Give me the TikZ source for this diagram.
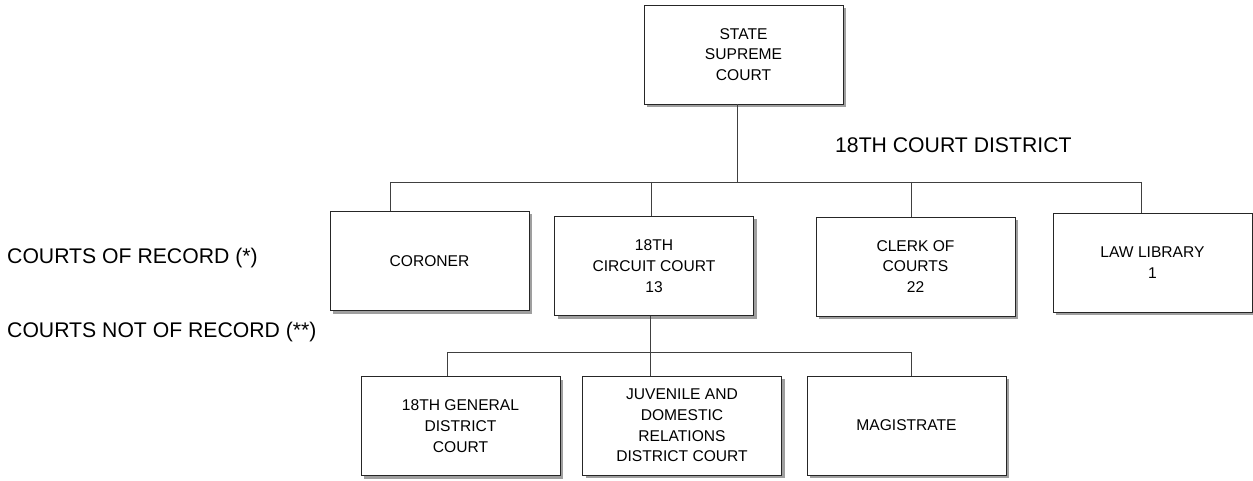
\documentclass[tikz,border=0pt]{standalone}
\usepackage{fontspec}
\setmainfont{Liberation Sans}
\usetikzlibrary{positioning,shadows}

\begin{document}
\begin{tikzpicture}[x=1pt, y=-1pt,
    court/.style={draw=black!85, line width=0.8pt, fill=white, minimum width=199pt, minimum height=99pt,
      align=center, inner sep=0pt, font=\fontsize{15.6}{20.8}\selectfont,
      drop shadow={shadow xshift=3pt, shadow yshift=-3pt, fill=gray!75, opacity=1}},
    link/.style={draw=black!75, line width=0.8pt},
    tag/.style={anchor=west, inner sep=0pt, font=\fontsize{21.2}{24}\selectfont}]
    \useasboundingbox (0,0) rectangle (1253,481);

    \node[court] (sup) at (743.5,54.5) {STATE\\SUPREME\\COURT};
    \node[tag] (district) at (835,145) {18TH COURT DISTRICT};

    \node[court] (coroner) at (429.5,261) {CORONER};
    \node[court] (circuit) at (654,266) {18TH\\CIRCUIT COURT\\13};
    \node[court] (clerk) at (915.5,266.5) {CLERK OF\\COURTS\\22};
    \node[court] (library) at (1152.5,262.5) {LAW LIBRARY\\1};

    \node[court] (general) at (460.5,426) {18TH GENERAL\\DISTRICT\\COURT};
    \node[court] (juvenile) at (682,425.5) {JUVENILE AND\\DOMESTIC\\RELATIONS\\DISTRICT COURT};
    \node[court] (magistrate) at (906.5,425.5) {MAGISTRATE};

    \node[tag] (record) at (7,258) {COURTS OF RECORD (*)};
    \node[tag] (norecord) at (7,332) {COURTS NOT OF RECORD (**)};

    % first level
    \coordinate (busA-l) at (390,182);
    \coordinate (busA-r) at (1141,182);
    \draw[link] (busA-l) -- (busA-r);
    \draw[link] ([xshift=-6.5]sup.south) -- ([xshift=-6.5]sup.south |- busA-l);
    \draw[link] (busA-l) -- (busA-l |- coroner.north);
    \draw[link] ([xshift=-3]circuit.north |- busA-l) -- ([xshift=-3]circuit.north);
    \draw[link] ([xshift=-4.5]clerk.north |- busA-l) -- ([xshift=-4.5]clerk.north);
    \draw[link] (busA-r) -- (busA-r |- library.north);

    % second level
    \coordinate (busB-l) at (447,352);
    \coordinate (busB-r) at (911,352);
    \draw[link] (busB-l) -- (busB-r);
    \draw[link] ([xshift=-4]circuit.south) -- ([xshift=-4]circuit.south |- busB-l);
    \draw[link] (busB-l) -- (busB-l |- general.north);
    \draw[link] ([xshift=-32]juvenile.north |- busB-l) -- ([xshift=-32]juvenile.north);
    \draw[link] (busB-r) -- (busB-r |- magistrate.north);
\end{tikzpicture}
\end{document}
